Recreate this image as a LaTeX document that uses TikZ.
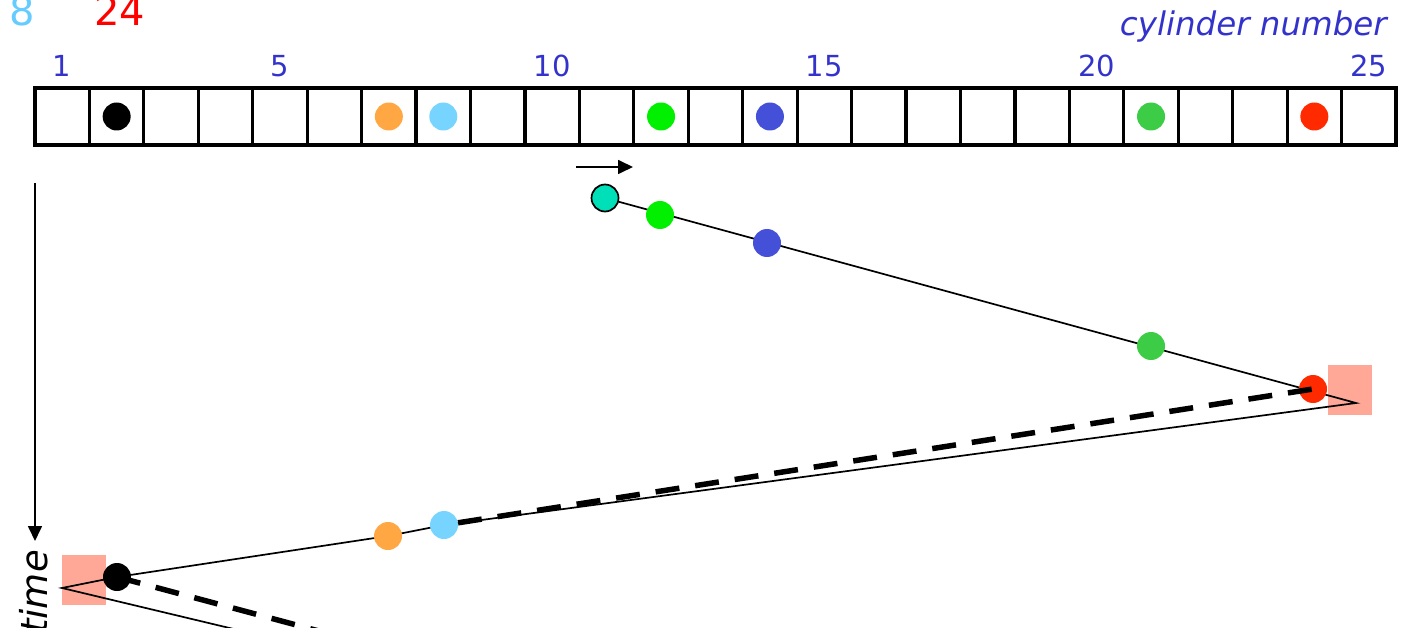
\documentclass[tikz,border=0pt]{standalone}
\usepackage{fontspec}
\setmainfont{DejaVu Sans}
\usetikzlibrary{arrows.meta,calc}
\definecolor{cOrange}{HTML}{FFA843}
\definecolor{cLBlue}{HTML}{77D4FF}
\definecolor{cGreen}{HTML}{00F000}
\definecolor{cBlue}{HTML}{4550D8}
\definecolor{cGreenB}{HTML}{3DCC45}
\definecolor{cRed}{HTML}{FF2A00}
\definecolor{cTeal}{HTML}{00E0B8}
\definecolor{cPink}{HTML}{FFA898}
\definecolor{cLabel}{HTML}{3333CC}
\definecolor{cEight}{HTML}{66CCFF}
\begin{document}
\begin{tikzpicture}[x=1pt,y=-1pt,
  cell/.style={draw=black,line width=3.2pt,rectangle,minimum width=54.44pt,minimum height=57pt,inner sep=0pt},
  dot/.style={circle,minimum size=28pt,inner sep=0pt,draw=none},
  numlbl/.style={text=cLabel,font=\fontsize{29}{34}\selectfont,inner sep=0pt,anchor=base},
  thin/.style={line width=1.7pt,draw=black},
  thickdash/.style={line width=5.5pt,draw=black,dash pattern=on 24pt off 16pt},
  pinkbox/.style={rectangle,fill=cPink,minimum width=44pt,minimum height=50pt,inner sep=0pt,draw=none},
  arr/.style={line width=1.7pt,-{Triangle[length=15pt,width=14pt]}}
]
\useasboundingbox (0,0) rectangle (1402,628);
\clip (0,0) rectangle (1402,628);

% top numbers
\node[text=cEight,font=\fontsize{40}{46}\selectfont,inner sep=0pt,anchor=base] (eight) at (22,26) {8};
\node[text=red,font=\fontsize{40}{46}\selectfont,inner sep=0pt,anchor=base] (tf) at (120,26) {24};
\node[text=cLabel,font=\fontsize{32.5}{38}\selectfont\itshape,inner sep=0pt,anchor=base east] (cyl) at (1387,36) {cylinder number};

% cells
\foreach \i in {1,...,25} {
  \node[cell] (c\i) at ({35+(\i-0.5)*54.44},116.5) {};
}
\foreach \i in {1,5,10,15,20,25} {
  \node[numlbl] (n\i) at ($(c\i.north)+(0,-10)$) {\i};
}
% dots in cells
\node[dot,fill=black] (cd2) at (c2) {};
\node[dot,fill=cOrange] (cd7) at (c7) {};
\node[dot,fill=cLBlue] (cd8) at (c8) {};
\node[dot,fill=cGreen] (cd12) at (c12) {};
\node[dot,fill=cBlue] (cd14) at (c14) {};
\node[dot,fill=cGreenB] (cd21) at (c21) {};
\node[dot,fill=cRed] (cd24) at (c24) {};

% direction arrow
\coordinate (ha) at (576,167);
\coordinate (hb) at (633,167);
\draw[arr] (ha) -- (hb);

% time arrow
\coordinate (ta) at (35,183);
\coordinate (tb) at (35,541);
\draw[arr] (ta) -- (tb);
\node[rotate=90,anchor=base east,inner sep=0pt,font=\fontsize{37}{42}\selectfont\itshape] (time) at (47,550) {time};

% pink squares
\node[pinkbox] (sqA) at (1350,390) {};
\node[pinkbox] (sqB) at (84,580) {};

% path coordinates
\coordinate (A) at (1356,403);
\coordinate (B) at (62,588);
\coordinate (Bend) at (330,652);
\coordinate (Dend) at (330,634);

\node[dot] (pT) at (605,198) {};
\node[dot] (p12) at (660,215) {};
\node[dot] (p14) at (767,243) {};
\node[dot] (p21) at (1151,346) {};
\node[dot] (p24) at (1313,389) {};
\node[dot] (p8) at (444,525) {};
\node[dot] (p7) at (388,536) {};
\node[dot] (p2) at (117,577) {};

% thin path
\draw[thin] (pT.center) -- (A) -- (p8.center) -- (p7.center) -- (p2.center) -- (B) -- (Bend);

% dots on path
\node[dot,fill=cGreen] at (p12) {};
\node[dot,fill=cBlue] at (p14) {};
\node[dot,fill=cGreenB] at (p21) {};
\node[dot,fill=cRed] at (p24) {};
\node[dot,fill=cLBlue] at (p8) {};
\node[dot,fill=cOrange] at (p7) {};
\node[dot,fill=black] at (p2) {};
\node[dot,fill=cTeal,draw=black,line width=1.7pt,minimum size=27pt] at (pT) {};

% dashed
\draw[thickdash] (p8) -- (p24.center);
\draw[thickdash] (p2.center) -- (Dend);
\end{tikzpicture}
\end{document}
